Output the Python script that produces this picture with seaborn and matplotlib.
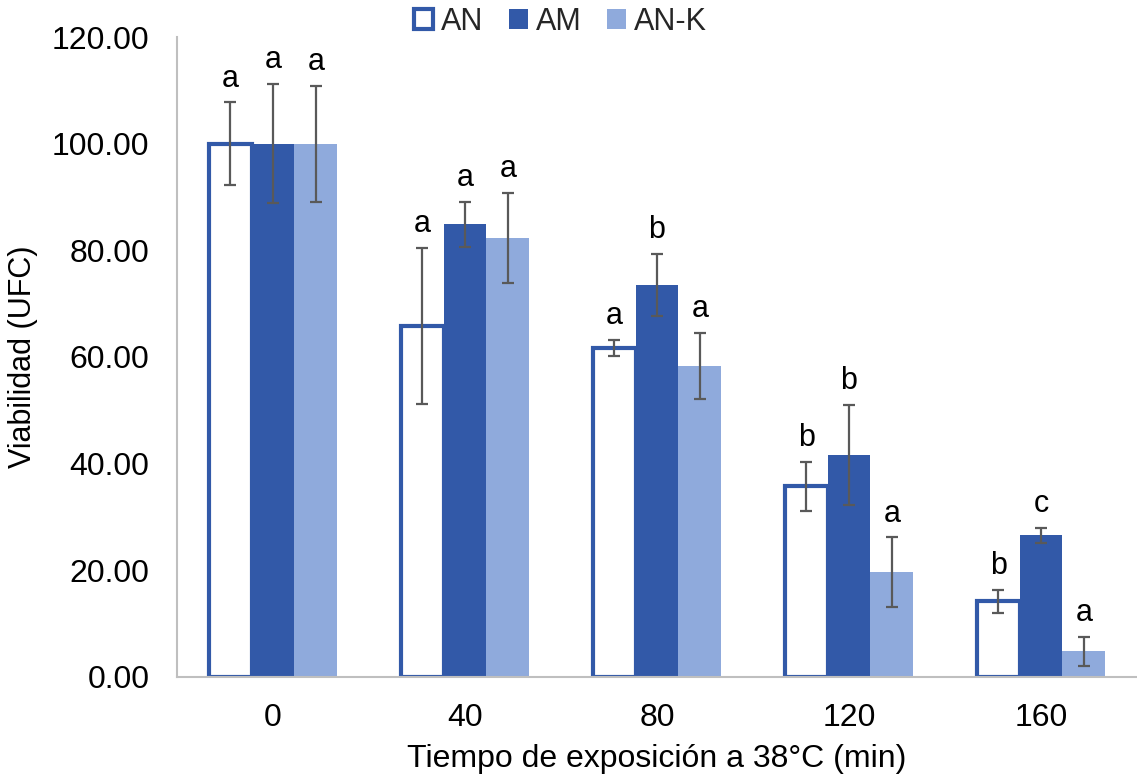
import matplotlib
matplotlib.use("Agg")
import matplotlib.pyplot as plt
import matplotlib.patches as mpatches
import seaborn as sns
import pandas as pd
import numpy as np

tiempos = ["0", "40", "80", "120", "160"]
grupos = ["AN", "AM", "AN-K"]
an_mean = [100.0, 65.8, 61.7, 35.8, 14.2]
am_mean = [100.0, 84.9, 73.5, 41.6, 26.6]
ank_mean = [100.0, 82.3, 58.3, 19.7, 4.8]
an_sd = [7.8, 14.7, 1.5, 4.6, 2.2]
am_sd = [11.2, 4.2, 5.9, 9.4, 1.4]
ank_sd = [10.9, 8.5, 6.2, 6.5, 2.7]
an_let = ["a", "a", "a", "b", "b"]
am_let = ["a", "a", "b", "b", "c"]
ank_let = ["a", "a", "a", "a", "a"]

means = {"AN": an_mean, "AM": am_mean, "AN-K": ank_mean}
sds = {"AN": an_sd, "AM": am_sd, "AN-K": ank_sd}
lets = {"AN": an_let, "AM": am_let, "AN-K": ank_let}

rows = []
for g in grupos:
    for t, m in zip(tiempos, means[g]):
        rows.append({"Tiempo": t, "Grupo": g, "Viabilidad": m})
df = pd.DataFrame(rows)

sns.set_theme(style="white")
plt.rcParams["font.family"] = ["Liberation Sans", "DejaVu Sans"]

dark = "#3259A8"
light = "#8FAADC"
palette = {"AN": "white", "AM": dark, "AN-K": light}

fig = plt.figure(figsize=(11.37, 7.76), dpi=100)
ax = fig.add_axes([0.1557, 0.1276, 0.8443, 0.8247])

sns.barplot(data=df, x="Tiempo", y="Viabilidad", hue="Grupo", order=tiempos,
            hue_order=grupos, palette=palette, errorbar=None, width=0.67,
            saturation=1, ax=ax, legend=False)

for cont, g in zip(ax.containers, grupos):
    for i, p in enumerate(cont.patches):
        if g == "AN":
            p.set_facecolor("white")
            p.set_edgecolor(dark)
            p.set_linewidth(3)
        else:
            p.set_edgecolor("none")
        x = p.get_x() + p.get_width() / 2
        m = means[g][i]
        s = sds[g][i]
        ax.errorbar(x, m, yerr=s, fmt="none", ecolor="#595959", elinewidth=1.6,
                    capsize=4.6, capthick=1.6, zorder=5)
        ax.text(x, m + s + 1.6, lets[g][i], ha="center", va="bottom",
                fontsize=22, color="black")

ax.set_ylim(0, 120)
ax.set_xlim(-0.5, 4.5)
ax.set_yticks(np.arange(0, 121, 20))
ax.set_yticklabels([f"{v:.2f}" for v in np.arange(0, 121, 20)])
ax.tick_params(axis="both", length=0, labelsize=23, colors="black")
ax.tick_params(axis="y", pad=20)
ax.tick_params(axis="x", pad=19)
for s in ["top", "right"]:
    ax.spines[s].set_visible(False)
for s in ["left", "bottom"]:
    ax.spines[s].set_color("#BFBFBF")
    ax.spines[s].set_linewidth(1.5)
ax.set_xlabel("Tiempo de exposición a 38°C (min)", fontsize=23, color="black", labelpad=8)
ax.set_ylabel("Viabilidad (UFC)", fontsize=22, color="black", labelpad=10)

handles = [
    mpatches.Patch(facecolor="white", edgecolor=dark, linewidth=3, label="AN"),
    mpatches.Patch(facecolor=dark, edgecolor="none", label="AM"),
    mpatches.Patch(facecolor=light, edgecolor="none", label="AN-K"),
]
fig.legend(handles=handles, loc="center", bbox_to_anchor=(0.493, 0.972), ncol=3,
           frameon=False, fontsize=22, handlelength=0.62, handleheight=0.62,
           handletextpad=0.25, columnspacing=0.85, borderpad=0)

fig.savefig("out.png", dpi=100)
